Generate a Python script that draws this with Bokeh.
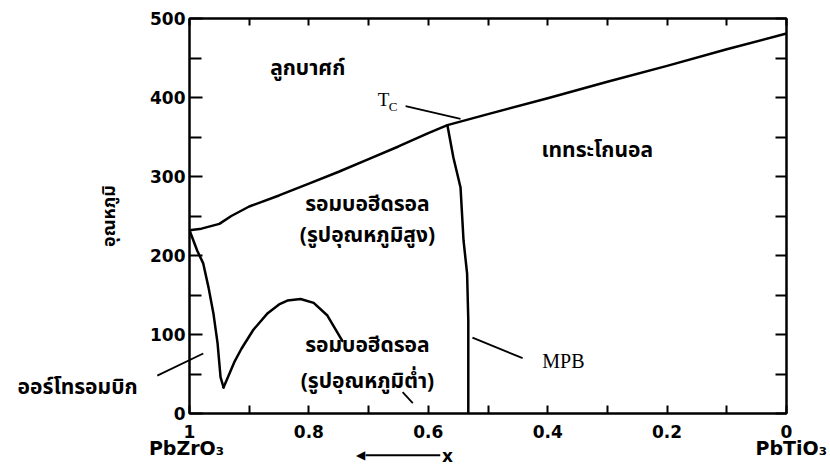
from bokeh.plotting import figure
from bokeh.models import Range1d, LinearAxis, FixedTicker
from bokeh.core.properties import value
from bokeh.embed import file_html
from bokeh.resources import INLINE

# ---- data (x = mole fraction of PbZrO3, T in deg C) ----
tc_x = [1.0, 0.98, 0.95, 0.93, 0.90, 0.85, 0.80, 0.75, 0.70, 0.65, 0.60, 0.568, 0.5, 0.4, 0.3, 0.2, 0.1, 0.0]
tc_T = [232, 234, 240, 250, 262, 276, 291, 306, 322, 338, 355, 365, 379, 399, 420, 440, 461, 481]

mpb_x = [0.568, 0.558, 0.546, 0.541, 0.535, 0.533, 0.533]
mpb_T = [365, 324, 286, 219, 177, 118, 0]

ortho_x = [1.0, 0.987, 0.977, 0.968, 0.960, 0.953, 0.948, 0.943]
ortho_T = [232, 206, 190, 159, 127, 89, 46, 33]

rlow_x = [0.943, 0.925, 0.913, 0.893, 0.869, 0.850, 0.836, 0.814, 0.792, 0.769, 0.744]
rlow_T = [33, 65, 82, 106, 127, 138, 143, 145, 140, 124, 92]

x_ticks = [0, 0.2, 0.4, 0.6, 0.8, 1.0]
x_tick_labels = ["0", "0.2", "0.4", "0.6", "0.8", "1"]
x_minor = [0.1, 0.3, 0.5, 0.7, 0.9]
y_ticks = [0, 100, 200, 300, 400, 500]
y_minor = [50, 150, 250, 350, 450]
y_right_ticks = [0, 50, 100, 150, 200, 250, 300, 350, 400, 450, 500]

y_title = "อุณหภูมิ"
end_labels = ["PbZrO₃", "PbTiO₃"]
end_x = [1.0, 0.0]
cubic = "ลูกบาศก์"
tetra = "เททระโกนอล"
rhombo = "รอมบอฮีดรอล"
high_t = "(รูปอุณหภูมิสูง)"
low_t = "(รูปอุณหภูมิต่ำ)"
ortho = "ออร์โทรอมบิก"

THAI = "Noto Sans Thai, Noto Sans, sans-serif"
SANS = "DejaVu Sans"
SERIF = "Liberation Serif"

p = figure(width=830, height=465, x_range=Range1d(1, 0), y_range=Range1d(0, 500),
           output_backend="svg", toolbar_location=None,
           min_border_left=189, min_border_right=44, min_border_top=18, min_border_bottom=52,
           background_fill_color="white", border_fill_color="white")
p.xgrid.visible = False
p.ygrid.visible = False
p.outline_line_color = "black"
p.outline_line_width = 2

# bottom axis
xa = p.xaxis[0]
xa.ticker = FixedTicker(ticks=x_ticks, minor_ticks=x_minor)
xa.major_label_overrides = {t: l for t, l in zip(x_ticks, x_tick_labels)}
xa.major_tick_in = 8
xa.major_tick_out = 0
xa.minor_tick_in = 8
xa.minor_tick_out = 0
xa.axis_line_width = 2
xa.major_tick_line_width = 2
xa.minor_tick_line_width = 2
xa.major_label_standoff = 11
xa.major_label_text_font = SANS
xa.major_label_text_font_style = "bold"
xa.major_label_text_font_size = "17px"
xa.major_label_text_color = "black"

# left axis
ya = p.yaxis[0]
ya.ticker = FixedTicker(ticks=y_ticks, minor_ticks=y_minor)
ya.major_tick_in = 13
ya.major_tick_out = 0
ya.minor_tick_in = 12
ya.minor_tick_out = 0
ya.axis_line_width = 2
ya.major_tick_line_width = 2
ya.minor_tick_line_width = 2
ya.major_label_standoff = 4
ya.major_label_text_font = SANS
ya.major_label_text_font_style = "bold"
ya.major_label_text_font_size = "17px"
ya.major_label_text_color = "black"
ya.axis_label = y_title
ya.axis_label_text_font = THAI
ya.axis_label_text_font_style = "bold"
ya.axis_label_text_font_size = "18px"
ya.axis_label_text_color = "black"
ya.axis_label_standoff = 24

# right axis (ticks only)
ra = LinearAxis(ticker=FixedTicker(ticks=y_right_ticks, minor_ticks=[]),
                major_label_overrides={t: "" for t in y_right_ticks},
                major_label_text_font_size="0px", major_label_standoff=0,
                major_tick_in=11, major_tick_out=0, minor_tick_in=0, minor_tick_out=0,
                axis_line_width=2, major_tick_line_width=2)
p.add_layout(ra, "right")

# top axis (ticks only)
all_x = sorted(x_ticks + x_minor)
ta = LinearAxis(ticker=FixedTicker(ticks=all_x, minor_ticks=[]),
                major_label_overrides={t: "" for t in all_x},
                major_label_text_font_size="0px", major_label_standoff=0,
                major_tick_in=7, major_tick_out=0, minor_tick_in=0, minor_tick_out=0,
                axis_line_width=2, major_tick_line_width=2)
p.add_layout(ta, "above")

# phase boundaries
for xs, ts in [(tc_x, tc_T), (mpb_x, mpb_T), (ortho_x, ortho_T), (rlow_x, rlow_T)]:
    p.line(xs, ts, line_color="black", line_width=2.5, line_join="round", line_cap="round")

# leader lines (drawn at overlay level so they may leave the frame)
p.segment(x0=[0.638, 0.526, 1.054, 0.643], y0=[389, 96, 48, 27],
          x1=[0.546, 0.442, 0.977, 0.626], y1=[373, 70, 76, 13],
          line_color="black", line_width=1.8, level="overlay")

def lab(x, y, text, font, size, style="bold", align="center"):
    p.text(x=[x], y=[y], text=[text], text_font=value(font), text_font_size=size,
           text_font_style=style, text_align=align, text_baseline="middle",
           text_color="black", level="overlay")

lab(0.802, 437, cubic, THAI, "21px")
lab(0.317, 333, tetra, THAI, "21px")
lab(0.702, 265, rhombo, THAI, "21px")
lab(0.702, 225, high_t, THAI, "21px")
lab(0.702, 86, rhombo, THAI, "21px")
lab(0.702, 40, low_t, THAI, "21px")
lab(1.087, 33, ortho, THAI, "21px", align="right")

lab(0.675, 397, "T", SERIF, "19px", style="normal")
lab(0.659, 389, "C", SERIF, "13px", style="normal")
lab(0.409, 66, "MPB", SERIF, "20px", style="normal", align="left")

for ex, et in zip(end_x, end_labels):
    lab(ex + (0.005 if ex > 0.5 else -0.008), -44, et, SANS, "19px")

# composition arrow "<---- x"
p.segment(x0=[0.705], y0=[-53], x1=[0.580], y1=[-53], line_color="black",
          line_width=2, level="overlay")
lab(0.721, -53, "◀", SANS, "12px", style="normal", align="left")
lab(0.568, -54, "x", SANS, "17px")

open("out.html", "w").write(file_html(p, INLINE))
